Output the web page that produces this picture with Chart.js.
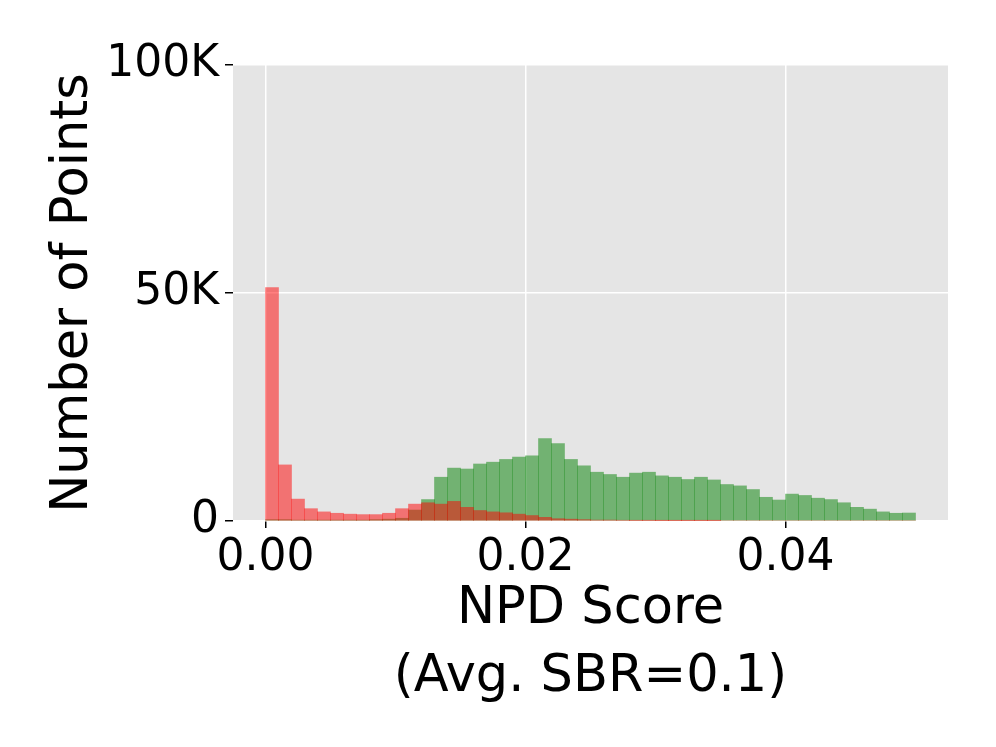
<!DOCTYPE html>
<html lang="en">
<head>
<meta charset="UTF-8" />
<title>NPD Score histogram</title>
<style>
  html, body { margin: 0; padding: 0; background: #fff; }
  #wrap { width: 996px; height: 747px; }
</style>
</head>
<body>
  <div id="wrap"><canvas id="hist"></canvas></div>

  <script src="https://cdn.jsdelivr.net/npm/chart.js"></script>
  <script>
    // bin centres (bin width 0.001, 0 .. 0.05)
    const binCenters = [
      0.0005, 0.0015, 0.0025, 0.0035, 0.0045, 0.0055, 0.0065, 0.0075, 0.0085, 0.0095,
      0.0105, 0.0115, 0.0125, 0.0135, 0.0145, 0.0155, 0.0165, 0.0175, 0.0185, 0.0195,
      0.0205, 0.0215, 0.0225, 0.0235, 0.0245, 0.0255, 0.0265, 0.0275, 0.0285, 0.0295,
      0.0305, 0.0315, 0.0325, 0.0335, 0.0345, 0.0355, 0.0365, 0.0375, 0.0385, 0.0395,
      0.0405, 0.0415, 0.0425, 0.0435, 0.0445, 0.0455, 0.0465, 0.0475, 0.0485, 0.0495
    ];

    // counts in thousands
    const redCounts = [
      51.2, 12.3, 4.8, 2.7, 2.0, 1.7, 1.5, 1.4, 1.4, 1.7,
      2.7, 3.7, 4.0, 3.7, 4.3, 3.0, 2.3, 2.0, 1.8, 1.5,
      1.2, 0.8, 0.5, 0.4, 0.3, 0.2, 0.2, 0.15, 0.1, 0.1,
      0.05, 0.05, 0.05, 0.05, 0.05, 0, 0, 0, 0, 0,
      0, 0, 0, 0, 0, 0, 0, 0, 0, 0
    ];
    const greenCounts = [
      0.3, 0.3, 0.2, 0.2, 0.2, 0.2, 0.2, 0.2, 0.3, 0.4,
      0.6, 2.4, 4.7, 9.6, 11.6, 11.4, 12.5, 12.9, 13.5, 14.0,
      14.3, 18.1, 17.0, 13.5, 12.1, 10.7, 10.2, 9.6, 10.5, 10.7,
      9.9, 9.6, 9.1, 9.6, 9.0, 8.0, 7.7, 6.9, 5.2, 4.6,
      5.9, 5.6, 5.0, 4.7, 4.0, 3.0, 2.6, 2.0, 1.7, 1.75
    ];

    const xTicks = [0, 0.02, 0.04];
    const yTicks = [0, 50000, 100000];

    const toPoints = counts => counts.map((c, i) => ({ x: binCenters[i], y: c * 1000 }));

    const FONT = "'DejaVu Sans', sans-serif";

    // grey panel behind the plot
    const panelBg = {
      id: 'panelBg',
      beforeDraw(chart) {
        const { ctx, chartArea: a } = chart;
        ctx.save();
        ctx.fillStyle = '#e5e5e5';
        ctx.fillRect(a.left, a.top, a.right - a.left, a.bottom - a.top);
        ctx.restore();
      }
    };

    new Chart(document.getElementById('hist'), {
      type: 'bar',
      data: {
        datasets: [
          {
            label: 'red',
            data: toPoints(redCounts),
            backgroundColor: 'rgba(255,0,0,0.5)',
            borderWidth: 0,
            grouped: false,
            barPercentage: 1,
            categoryPercentage: 1
          },
          {
            label: 'green',
            data: toPoints(greenCounts),
            backgroundColor: 'rgba(0,128,0,0.5)',
            borderWidth: 0,
            grouped: false,
            barPercentage: 1,
            categoryPercentage: 1
          }
        ]
      },
      options: {
        responsive: true,
        maintainAspectRatio: false,
        animation: false,
        layout: { padding: { left: 0, top: 65, right: 48, bottom: 0 } },
        plugins: { legend: { display: false }, tooltip: { enabled: false } },
        scales: {
          x: {
            type: 'linear',
            min: -0.0025,
            max: 0.0525,
            offset: false,
            afterFit(s) { s.height = 226; s.paddingLeft = 0; s.paddingRight = 0; },
            afterBuildTicks(s) { s.ticks = xTicks.map(v => ({ value: v })); },
            grid: { offset: false, color: '#fff', lineWidth: 1.5, tickColor: '#000', tickWidth: 1.5, tickLength: 7 },
            border: { display: false },
            ticks: {
              padding: 4,
              color: '#000',
              font: { family: FONT, size: 44 },
              maxRotation: 0,
              callback: v => v.toFixed(2)
            },
            title: {
              display: true,
              text: ['NPD Score', '(Avg. SBR=0.1)'],
              color: '#000',
              font: { family: FONT, size: 51, lineHeight: 1.32 },
              padding: { top: 0, bottom: 36 }
            }
          },
          y: {
            min: 0,
            max: 100000,
            afterFit(s) { s.width = 233; s.paddingTop = 0; s.paddingBottom = 0; },
            afterBuildTicks(s) { s.ticks = yTicks.map(v => ({ value: v })); },
            grid: { color: '#fff', lineWidth: 1.5, tickColor: '#000', tickWidth: 1.5, tickLength: 8 },
            border: { display: false },
            ticks: {
              padding: 6,
              color: '#000',
              font: { family: FONT, size: 44 },
              callback: v => v === 0 ? '0' : (v / 1000) + 'K'
            },
            title: {
              display: true,
              text: 'Number of Points',
              color: '#000',
              font: { family: FONT, size: 51, lineHeight: 1.32 },
              padding: { top: 40, bottom: 0 }
            }
          }
        }
      },
      plugins: [panelBg]
    });
  </script>
</body>
</html>
